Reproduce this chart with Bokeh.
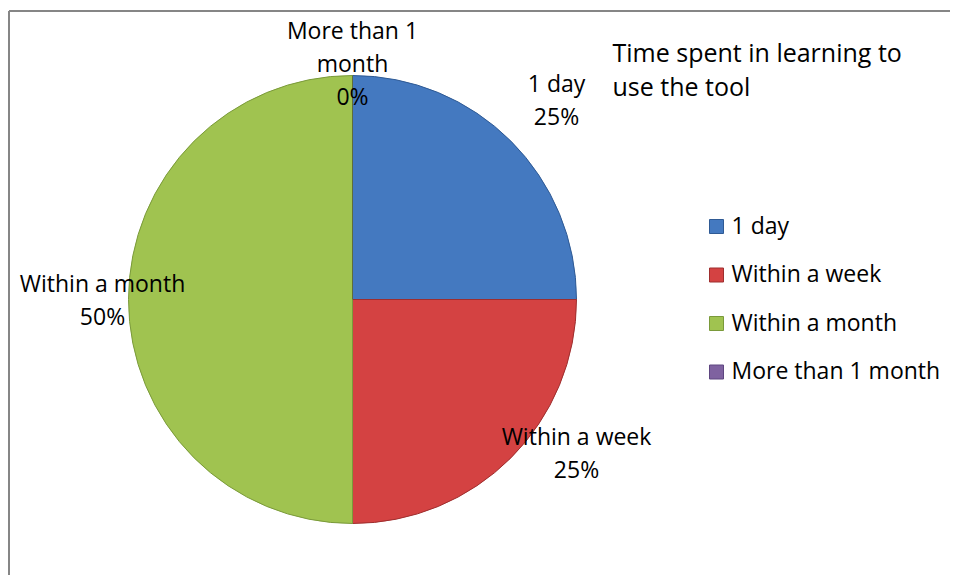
from math import pi
from bokeh.plotting import figure
from bokeh.models import Range1d, ColumnDataSource
from bokeh.core.properties import value
from bokeh.embed import file_html
from bokeh.resources import INLINE

categories = ["1 day", "Within a week", "Within a month", "More than 1 month"]
values = [25, 25, 50, 0]
colors = ["#4479C0", "#D44242", "#A0C350", "#7F62A0"]
edge_colors = ["#2F5A94", "#9E2E2E", "#7A9A3A", "#5E4680"]
title_lines = ["Time spent in learning to", "use the tool"]

FONT = value("Open Sans")
FS = "23px"
TFS = "25px"

W, H = 950, 575
p = figure(width=W, height=H, x_range=Range1d(0, W), y_range=Range1d(0, H),
           output_backend="svg", toolbar_location=None, min_border=0)
p.axis.visible = False
p.grid.visible = False
p.outline_line_color = None
p.background_fill_color = "white"

# frame (top and left visible, rest cropped)
p.line([8.5, W], [H - 10.5, H - 10.5], line_color="#868686", line_width=2)
p.line([8.5, 8.5], [0, H - 10.5], line_color="#868686", line_width=2)

# pie
cx, cy, r = 352, 276, 224
total = sum(values)
starts, ends, cols, edges = [], [], [], []
a = pi / 2
for v, c, e in zip(values, colors, edge_colors):
    b = a - v / total * 2 * pi
    if v > 0:
        starts.append(a)
        ends.append(b)
        cols.append(c)
        edges.append(e)
    a = b
src = ColumnDataSource(dict(start=starts, end=ends, color=cols, edge=edges))
p.wedge(x=cx, y=cy, radius=r, start_angle="start", end_angle="end", direction="clock",
        fill_color="color", line_color="edge", line_width=1, source=src)
# zero-size slice boundary line at top
p.line([cx, cx], [cy, cy + r], line_color="#5E6E3A", line_width=1)

# data labels
pct = [f"{round(v / total * 100)}%" for v in values]
label_pos = {
    "1 day": (556, 493, ["1 day"]),
    "Within a week": (576, 140, ["Within a week"]),
    "Within a month": (102, 293, ["Within a month"]),
    "More than 1 month": (352, 546, ["More than 1", "month"]),
}
lx, ly, lt = [], [], []
for cat, pc in zip(categories, pct):
    x, y, lines = label_pos[cat]
    for i, ln in enumerate(lines + [pc]):
        lx.append(x)
        ly.append(y - i * 33)
        lt.append(ln)
p.text(x=lx, y=ly, text=lt, text_font=FONT, text_font_size=FS, text_align="center",
       text_baseline="middle", text_color="black")

# title
p.text(x=[612, 612], y=[524, 490], text=title_lines, text_font=FONT, text_font_size=TFS,
       text_align="left", text_baseline="middle", text_color="black")

# legend
leg_y = [349 - i * 48.5 for i in range(len(categories))]
p.scatter(x=[716] * len(categories), y=leg_y, marker="square", size=14,
          fill_color=colors, line_color=edge_colors, line_width=1)
p.text(x=[731] * len(categories), y=[y + 2 for y in leg_y], text=categories, text_font=FONT,
       text_font_size=FS, text_align="left", text_baseline="middle", text_color="black")

open("out.html", "w").write(file_html(p, INLINE))
